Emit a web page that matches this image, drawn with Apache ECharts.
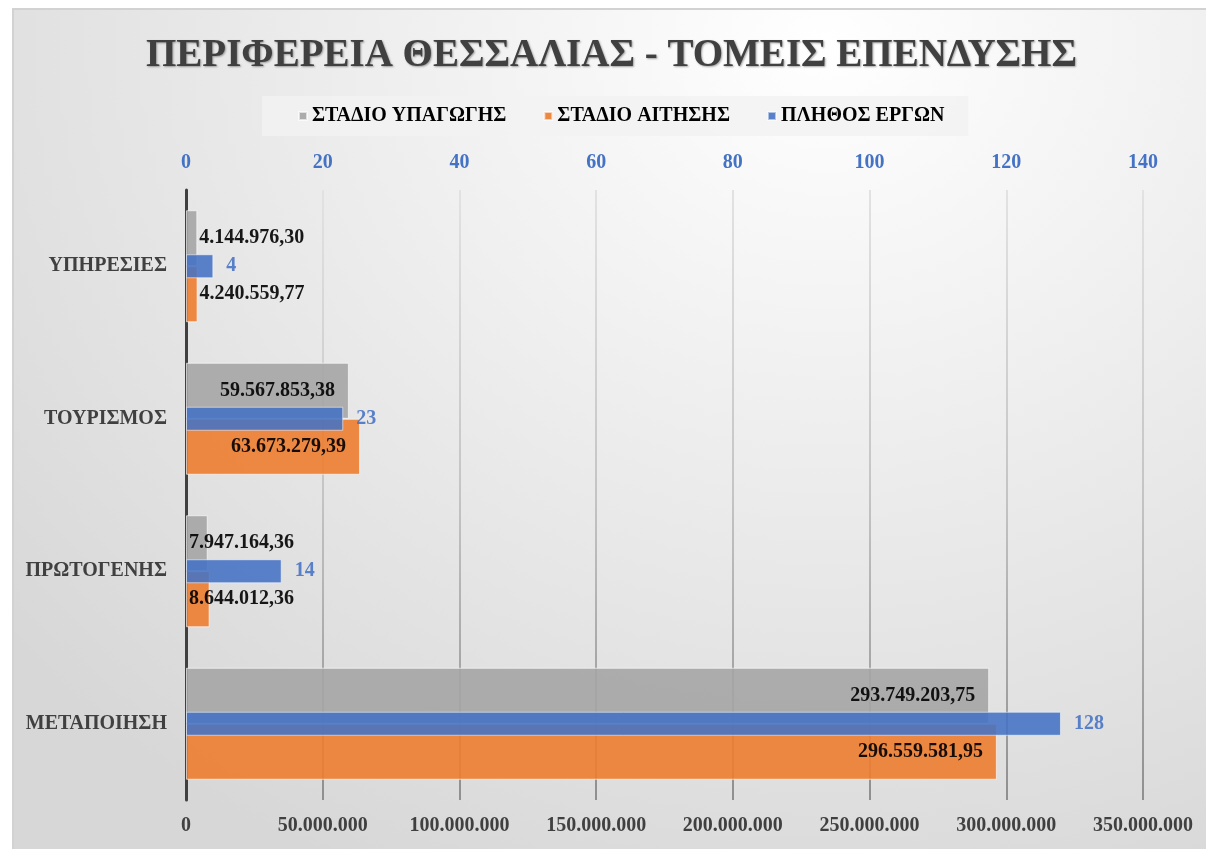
<!DOCTYPE html>
<html>
<head>
<meta charset="utf-8">
<script src="https://cdn.jsdelivr.net/npm/echarts@6/dist/echarts.min.js"></script>
<style>
  html, body { margin: 0; padding: 0; background: #fff; }
  #bg {
    position: absolute; left: 12px; top: 8px; right: 0; bottom: 0;
    border-top: 2px solid #d2d2d2; border-left: 2px solid #d2d2d2;
    background: radial-gradient(ellipse 90% 110% at 68% 4%, #ffffff 0%, #f3f3f3 30%, #e5e5e5 65%, #d7d7d7 100%);
  }
  #chart { position: absolute; left: 0; top: 0; width: 1206px; height: 849px; }
</style>
</head>
<body>
<div id="bg"></div>
<div id="chart"></div>
<script>
// categories, top to bottom
const sectors = ['ΥΠΗΡΕΣΙΕΣ', 'ΤΟΥΡΙΣΜΟΣ', 'ΠΡΩΤΟΓΕΝΗΣ', 'ΜΕΤΑΠΟΙΗΣΗ'];
const stadioYpagogis = [4144976.30, 59567853.38, 7947164.36, 293749203.75];
const stadioAitisis = [4240559.77, 63673279.39, 8644012.36, 296559581.95];
const plithosErgon = [4, 23, 14, 128];

const seriesNames = ['ΣΤΑΔΙΟ ΥΠΑΓΩΓΗΣ', 'ΣΤΑΔΙΟ ΑΙΤΗΣΗΣ', 'ΠΛΗΘΟΣ ΕΡΓΩΝ'];

// where each value label sits (same as the original chart)
const grayLabelPos = ['right', 'insideRight', 'insideLeft', 'insideRight'];
const orangeLabelPos = ['right', 'insideRight', 'insideLeft', 'insideRight'];

const FONT = "'Liberation Serif', 'Times New Roman', serif";

function fmt(v, dec) {
  let s = v.toFixed(dec);
  let parts = s.split('.');
  let ip = parts[0].replace(/\B(?=(\d{3})+(?!\d))/g, '.');
  return parts.length > 1 ? ip + ',' + parts[1] : ip;
}

function withLabels(values, posList) {
  return values.map(function (v, i) {
    let pos = posList[i];
    return {
      value: v,
      label: {
        position: pos,
        distance: pos === 'right' ? 2 : (pos === 'insideLeft' ? 3 : 14)
      }
    };
  });
}

const chart = echarts.init(document.getElementById('chart'), null, { renderer: 'canvas' });

const valueLabel = {
  show: true,
  color: '#000',
  fontFamily: FONT,
  fontWeight: 'bold',
  fontSize: 20,
  formatter: function (p) { return fmt(p.value, 2); }
};

const option = {
  backgroundColor: 'transparent',
  title: {
    text: 'ΠΕΡΙΦΕΡΕΙΑ ΘΕΣΣΑΛΙΑΣ - ΤΟΜΕΙΣ ΕΠΕΝΔΥΣΗΣ',
    left: 141,
    top: 31,
    textStyle: {
      fontFamily: FONT,
      fontWeight: 'bold',
      fontSize: 39,
      color: '#404040',
      textShadowColor: 'rgba(0,0,0,0.35)',
      textShadowBlur: 2,
      textShadowOffsetX: 1,
      textShadowOffsetY: 1
    }
  },
  legend: {
    data: seriesNames,
    left: 262,
    top: 96,
    padding: [10, 24, 10, 36],
    backgroundColor: 'rgba(242,242,242,0.85)',
    icon: 'rect',
    itemWidth: 8,
    itemHeight: 8,
    itemGap: 37,
    textStyle: {
      fontFamily: FONT,
      fontWeight: 'bold',
      fontSize: 20,
      color: '#000'
    }
  },
  grid: {
    left: 186,
    right: 63,
    top: 190,
    bottom: 49
  },
  xAxis: [
    {
      type: 'value',
      position: 'top',
      min: 0,
      max: 140,
      interval: 20,
      axisLine: { show: false },
      axisTick: { show: false },
      splitLine: { show: false },
      axisLabel: {
        margin: 17,
        color: '#4472C4',
        fontFamily: FONT,
        fontWeight: 'bold',
        fontSize: 20
      }
    },
    {
      type: 'value',
      position: 'bottom',
      min: 0,
      max: 350000000,
      interval: 50000000,
      axisLine: { show: false },
      axisTick: { show: false },
      splitLine: {
        show: true,
        lineStyle: {
          width: 2,
          color: new echarts.graphic.LinearGradient(0, 190, 0, 800, [
            { offset: 0, color: '#e2e2e2' },
            { offset: 0.5, color: '#c4c4c4' },
            { offset: 1, color: '#8f8f8f' }
          ], true)
        }
      },
      axisLabel: {
        margin: 16,
        color: '#404040',
        fontFamily: FONT,
        fontWeight: 'bold',
        fontSize: 20,
        formatter: function (v) { return fmt(v, 0); }
      }
    }
  ],
  yAxis: [
    {
      type: 'category',
      data: sectors,
      inverse: true,
      axisLine: { show: true, lineStyle: { color: '#404040', width: 3 } },
      axisTick: { show: false },
      axisLabel: {
        margin: 19,
        color: '#404040',
        fontFamily: FONT,
        fontWeight: 'bold',
        fontSize: 20
      }
    },
    {
      type: 'category',
      data: sectors,
      inverse: true,
      show: false
    }
  ],
  series: [
    {
      name: seriesNames[0],
      type: 'bar',
      xAxisIndex: 1,
      yAxisIndex: 0,
      barWidth: 56,
      barGap: '0%',
      itemStyle: {
        color: '#A5A5A5',
        opacity: 0.9,
        borderColor: 'rgba(255,255,255,0.7)',
        borderWidth: 1
      },
      label: valueLabel,
      data: withLabels(stadioYpagogis, grayLabelPos)
    },
    {
      name: seriesNames[1],
      type: 'bar',
      xAxisIndex: 1,
      yAxisIndex: 0,
      barWidth: 56,
      barGap: '0%',
      itemStyle: {
        color: '#ED7D31',
        opacity: 0.9,
        borderColor: 'rgba(255,255,255,0.7)',
        borderWidth: 1
      },
      label: valueLabel,
      data: withLabels(stadioAitisis, orangeLabelPos)
    },
    {
      name: seriesNames[2],
      type: 'bar',
      xAxisIndex: 0,
      yAxisIndex: 1,
      barWidth: 24,
      itemStyle: {
        color: '#4472C4',
        opacity: 0.88,
        borderColor: 'rgba(255,255,255,0.6)',
        borderWidth: 1
      },
      label: {
        show: true,
        position: 'right',
        distance: 13,
        color: '#4472C4',
        fontFamily: FONT,
        fontWeight: 'bold',
        fontSize: 20
      },
      data: plithosErgon
    }
  ]
};

chart.setOption(option);
</script>
</body>
</html>
